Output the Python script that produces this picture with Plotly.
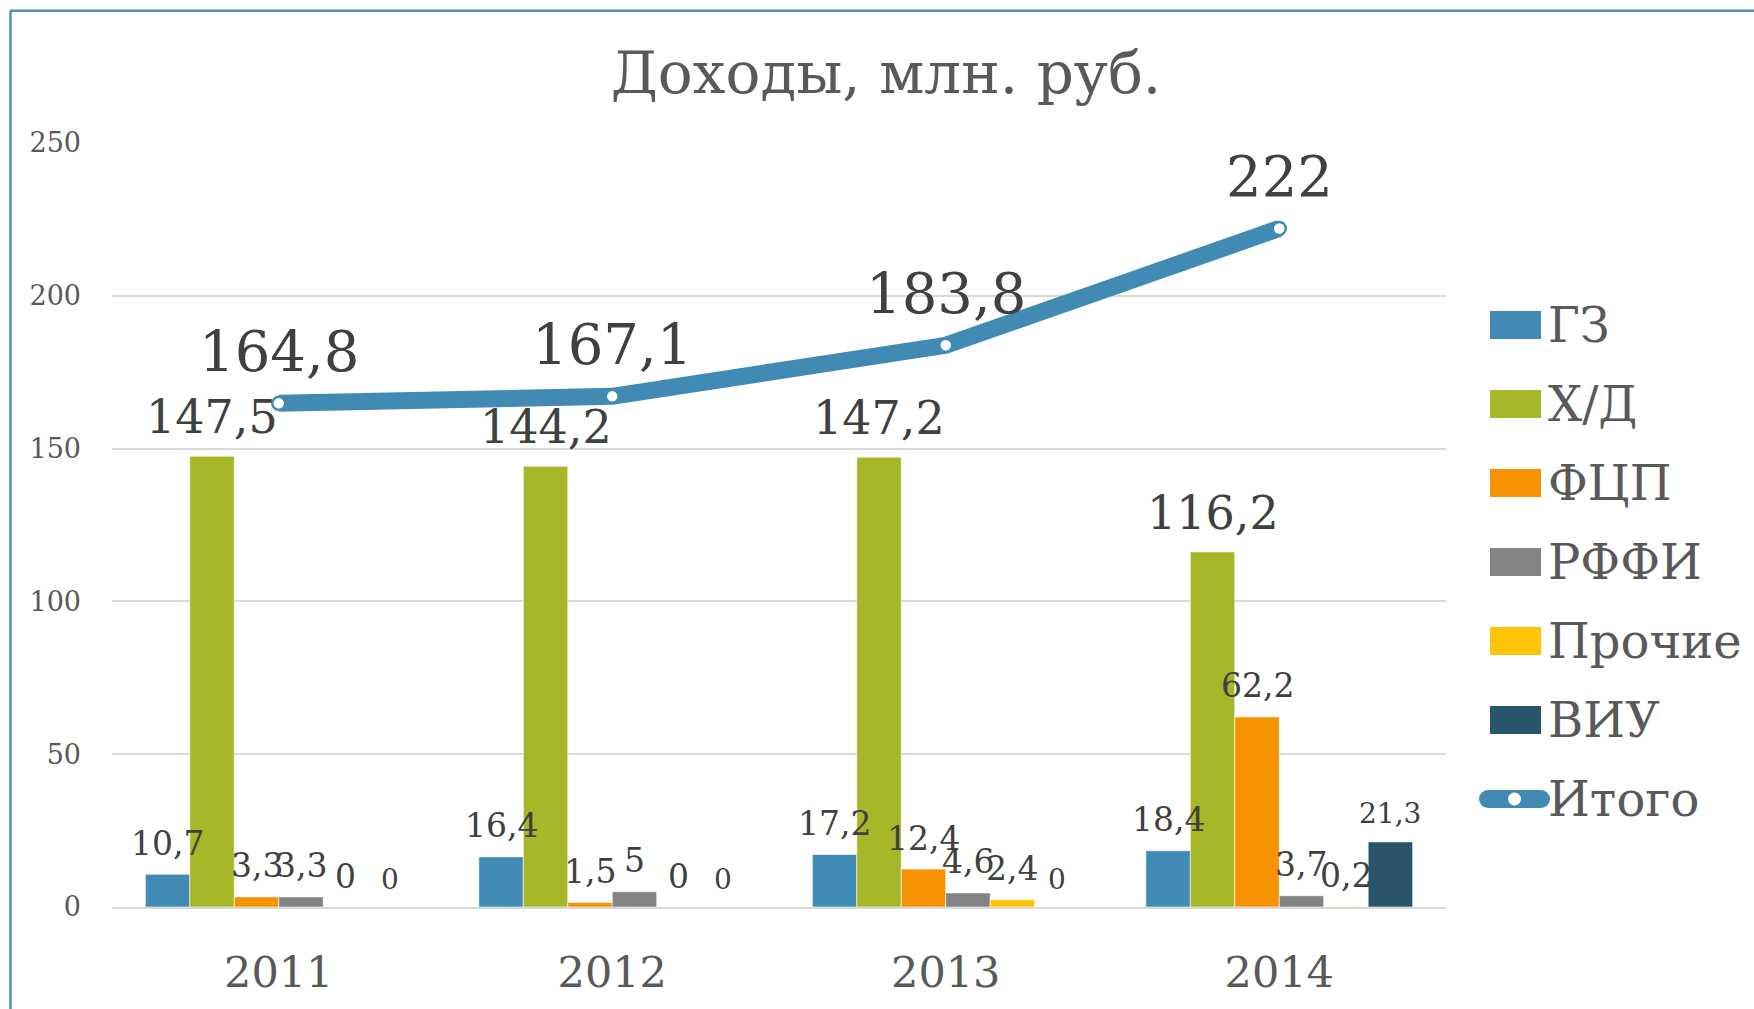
import plotly.graph_objects as go

# ---------------- data ----------------
years = ["2011", "2012", "2013", "2014"]
series_names = ["ГЗ", "Х/Д", "ФЦП", "РФФИ", "Прочие", "ВИУ"]
gz = [10.7, 16.4, 17.2, 18.4]
hd = [147.5, 144.2, 147.2, 116.2]
fcp = [3.3, 1.5, 12.4, 62.2]
rffi = [3.3, 5, 4.6, 3.7]
prochie = [0, 0, 2.4, 0.2]
viu = [0, 0, 0, 21.3]
itogo = [164.8, 167.1, 183.8, 222]
total_name = "Итого"
y_ticks = [0, 50, 100, 150, 200, 250]
title_text = "Доходы, млн. руб."

series_values = [gz, hd, fcp, rffi, prochie, viu]
colors = ["#418AB3", "#A6B727", "#F69200", "#838383", "#FEC306", "#28546C"]
line_color = "#418AB3"
label_sizes = [33, 46, 33, 33, 33, 28]
label_shift = [31, 39, 31, 31, 31, 28]

FONT = "DejaVu Serif"
W, H = 1754, 1009
PL, PR, PT, PB = 112, 1446, 143, 911
BARGAP = 0.2


def px2x(px):
    return (px - PL) / (PR - PL)


def px2y(py):
    return (PB - py) / (PB - PT)


def fmt(v):
    return f"{v:g}".replace(".", ",")


fig = go.Figure()

for name, vals, col in zip(series_names, series_values, colors):
    fig.add_trace(go.Bar(
        x=years, y=vals, name=name,
        marker=dict(color=col, line=dict(color="rgba(255,255,255,0.6)", width=1)),
        showlegend=False, hoverinfo="x+y+name",
    ))

fig.add_trace(go.Scatter(
    x=years, y=itogo, name=total_name, mode="lines+markers",
    line=dict(color=line_color, width=17),
    marker=dict(size=13, color="white", line=dict(color=line_color, width=2.5)),
    showlegend=False,
))

# data labels (category axis: annotation x given as category index)
cat_px = (PR - PL) / len(years)
bar_px = cat_px * (1 - BARGAP) / len(series_names)
ns = len(series_names)
for j, vals in enumerate(series_values):
    for i, v in enumerate(vals):
        fig.add_annotation(
            x=i, y=v, xref="x", yref="y", text=fmt(v), showarrow=False,
            xanchor="center", yanchor="middle",
            xshift=(j - (ns - 1) / 2) * bar_px, yshift=label_shift[j],
            font=dict(family=FONT, size=label_sizes[j], color="#404040"),
        )
for i, v in enumerate(itogo):
    fig.add_annotation(
        x=i, y=v, xref="x", yref="y", text=fmt(v), showarrow=False,
        xanchor="center", yanchor="middle", yshift=52,
        font=dict(family=FONT, size=56, color="#404040"),
    )

# custom legend
shapes = []
leg_x0, leg_x1, leg_text_x = 1490, 1541, 1546
leg_y0, leg_dy, sw_h = 326, 79.4, 28
for i, (name, col) in enumerate(zip(series_names, colors)):
    cy = leg_y0 + i * leg_dy
    shapes.append(dict(type="rect", xref="paper", yref="paper",
                       x0=px2x(leg_x0), x1=px2x(leg_x1),
                       y0=px2y(cy + sw_h / 2), y1=px2y(cy - sw_h / 2),
                       fillcolor=col, line=dict(width=0)))
    fig.add_annotation(x=px2x(leg_text_x), y=px2y(cy), xref="paper", yref="paper",
                       text=name, showarrow=False, xanchor="left", yanchor="middle",
                       font=dict(family=FONT, size=48, color="#595959"))
cy = leg_y0 + ns * leg_dy
lw = 18
shapes.append(dict(type="line", xref="paper", yref="paper",
                   x0=px2x(1488), x1=px2x(1541), y0=px2y(cy), y1=px2y(cy),
                   line=dict(color=line_color, width=lw)))
for cx in (1488, 1541):
    shapes.append(dict(type="circle", xref="paper", yref="paper",
                       x0=px2x(cx - lw / 2), x1=px2x(cx + lw / 2),
                       y0=px2y(cy + lw / 2), y1=px2y(cy - lw / 2),
                       fillcolor=line_color, line=dict(width=0)))
shapes.append(dict(type="circle", xref="paper", yref="paper",
                   x0=px2x(1514.5 - 6.5), x1=px2x(1514.5 + 6.5),
                   y0=px2y(cy + 6.5), y1=px2y(cy - 6.5),
                   fillcolor="white", line=dict(width=0)))
fig.add_annotation(x=px2x(leg_text_x), y=px2y(cy), xref="paper", yref="paper",
                   text=total_name, showarrow=False, xanchor="left", yanchor="middle",
                   font=dict(family=FONT, size=48, color="#595959"))

# frame
frame_col = "#4A8FBE"
shapes.append(dict(type="line", xref="paper", yref="paper",
                   x0=px2x(10), x1=px2x(W + 20), y0=px2y(10), y1=px2y(10),
                   line=dict(color=frame_col, width=2.5)))
shapes.append(dict(type="line", xref="paper", yref="paper",
                   x0=px2x(10.5), x1=px2x(10.5), y0=px2y(10), y1=px2y(H + 30),
                   line=dict(color=frame_col, width=2.5)))

fig.update_layout(
    width=W, height=H,
    margin=dict(l=PL, r=W - PR, t=PT, b=H - PB, pad=0),
    paper_bgcolor="white", plot_bgcolor="white",
    barmode="group", bargap=BARGAP, bargroupgap=0,
    showlegend=False,
    shapes=shapes,
    title=dict(text=title_text, x=886 / W, xref="container", xanchor="center",
               y=1 - 73 / H, yref="container", yanchor="middle",
               font=dict(family=FONT, size=58, color="#595959")),
    font=dict(family=FONT, color="#595959"),
)
fig.update_xaxes(
    type="category", range=[-0.5, len(years) - 0.5], autorange=False,
    showgrid=False, showline=True, linecolor="#D9D9D9", linewidth=2,
    ticks="", ticklabelstandoff=26,
    tickfont=dict(family=FONT, size=43, color="#595959"),
)
fig.update_yaxes(
    range=[0, 250], autorange=False, tickvals=y_ticks, ticktext=[str(t) for t in y_ticks],
    showgrid=True, gridcolor="#D9D9D9", gridwidth=1.5, zeroline=False,
    ticks="", ticklabelstandoff=30,
    tickfont=dict(family=FONT, size=27, color="#595959"),
)

fig.write_html(
    "out.html",
    config={"displayModeBar": False},
    post_script="document.body.style.margin='0';document.body.style.padding='0';",
)
